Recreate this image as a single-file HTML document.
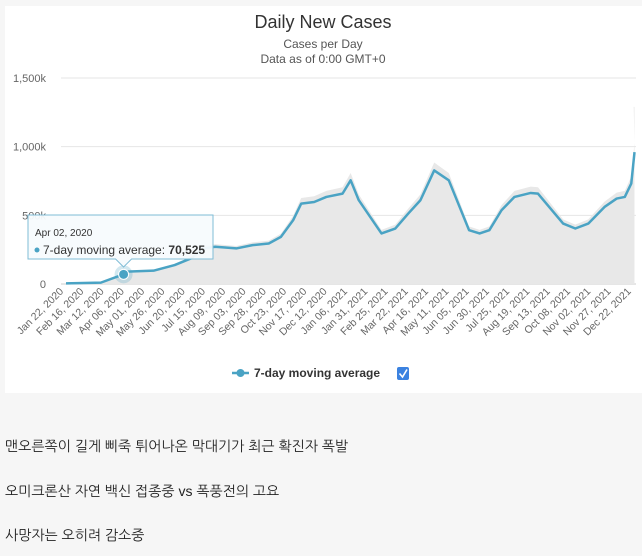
<!DOCTYPE html>
<html><head><meta charset="utf-8">
<style>
body{margin:0;width:642px;height:556px;background:#f6f6f6;font-family:"Liberation Sans","Noto Sans CJK KR",sans-serif;overflow:hidden;position:relative}
#panel{position:absolute;left:5px;top:6px;width:637px;height:387px;background:#fff}
.kr{position:absolute;left:5px;font-size:14px;color:#222;font-family:"Liberation Sans","NanumGothic","Noto Sans CJK KR",sans-serif}
</style></head>
<body>
<div id="panel"></div>
<svg id="chart" width="642" height="400" style="position:absolute;left:0;top:0"></svg>
<div class="kr" style="top:438px">맨오른쪽이 길게 삐죽 튀어나온 막대기가 최근 확진자 폭발</div>
<div class="kr" style="top:483px">오미크론산 자연 백신 접종중 vs 폭풍전의 고요</div>
<div class="kr" style="top:527px">사망자는 오히려 감소중</div>
<script>
const tickLabels=["Jan 22, 2020","Feb 16, 2020","Mar 12, 2020","Apr 06, 2020","May 01, 2020","May 26, 2020","Jun 20, 2020","Jul 15, 2020","Aug 09, 2020","Sep 03, 2020","Sep 28, 2020","Oct 23, 2020","Nov 17, 2020","Dec 12, 2020","Jan 06, 2021","Jan 31, 2021","Feb 25, 2021","Mar 22, 2021","Apr 16, 2021","May 11, 2021","Jun 05, 2021","Jun 30, 2021","Jul 25, 2021","Aug 19, 2021","Sep 13, 2021","Oct 08, 2021","Nov 02, 2021","Nov 27, 2021","Dec 22, 2021"];
const yTicks=[0,500,1000,1500];
const yTickLabels=["0","500k","1,000k","1,500k"];
const days=[0,43,71,73,108,134,154,170,184,210,230,250,265,280,290,306,321,341,351,361,389,406,422,437,454,472,497,510,522,537,553,573,582,613,628,644,664,679,689,697,701];
const avgK=[5,10,70.5,90,97,138,186,259,271,259,283,295,343,464,585,597,634,658,755,610,368,404,513,610,827,755,392,368,392,537,634,663,658,440,404,440,561,622,634,731,960];
const dailySpikeK=1290;
const ns="http://www.w3.org/2000/svg";
const svg=document.getElementById('chart');
const x=d=>66+d*0.811;
const y=v=>284-v*(206/1500);
function el(t,a,p){const e=document.createElementNS(ns,t);for(const k in a)e.setAttribute(k,a[k]);(p||svg).appendChild(e);return e;}
let t=el('text',{x:323,y:28,'text-anchor':'middle','font-size':18,fill:'#333'});t.textContent='Daily New Cases';

t=el('text',{x:323,y:48,'text-anchor':'middle','font-size':12,fill:'#555'});t.textContent='Cases per Day';

t=el('text',{x:323,y:63,'text-anchor':'middle','font-size':12,fill:'#555'});t.textContent='Data as of 0:00 GMT+0';

yTicks.forEach((v,i)=>{
 const g=el('line',{x1:61,x2:636,y1:y(v),y2:y(v),stroke:i?'#e6e6e6':'#ccc'});
 
 const l=el('text',{x:46,y:y(v)+4,'text-anchor':'end','font-size':11,fill:'#666'});l.textContent=yTickLabels[i];
 
});
let ap='M'+x(days[0])+','+y(0);
days.forEach((d,i)=>{ap+=' L'+x(d)+','+y(avgK[i]*1.07);});
ap+=' L'+x(days[days.length-1]-1)+','+y(dailySpikeK)+' L'+x(days[days.length-1])+','+y(dailySpikeK)+' L'+x(days[days.length-1])+','+y(0)+' Z';
const area=el('path',{d:ap,fill:'#e8e8e8'});

tickLabels.forEach((s,i)=>{
 const tx=x(i*25)-2,ty=292;
 const l=el('text',{x:tx,y:ty,'text-anchor':'end','font-size':10.5,fill:'#666',transform:`rotate(-45 ${tx} ${ty})`});l.textContent=s;
 
});
let lp='';days.forEach((d,i)=>{lp+=(i?' L':'M')+x(d)+','+y(avgK[i]);});
const line=el('path',{d:lp,fill:'none',stroke:'#4aa3c4','stroke-width':2.5,'stroke-linejoin':'round'});

const hx=x(days[2]),hy=y(avgK[2]);
let c=el('circle',{cx:hx,cy:hy,r:9,fill:'#4aa3c4','fill-opacity':0.25});

c=el('circle',{cx:hx,cy:hy,r:5,fill:'#4aa3c4',stroke:'#fff','stroke-width':1});

const tip=el('g',{});

el('path',{d:`M28,215 H213 V259 H${hx+8} L${hx},267 L${hx-8},259 H28 Z`,fill:'#f7fbfd','fill-opacity':0.95,stroke:'#7fbcd6','stroke-width':1},tip);
t=el('text',{x:35,y:236,'font-size':10,fill:'#333'},tip);t.textContent='Apr 02, 2020';
el('circle',{cx:37,cy:250,r:2.5,fill:'#4aa3c4'},tip);
t=el('text',{x:43,y:254,'font-size':12,fill:'#333'},tip);t.innerHTML='7-day moving average: <tspan font-weight="bold">70,525</tspan>';
const lg=el('g',{});

el('line',{x1:232,x2:249,y1:373,y2:373,stroke:'#4aa3c4','stroke-width':2.5},lg);
el('circle',{cx:240.5,cy:373,r:4,fill:'#4aa3c4'},lg);
t=el('text',{x:254,y:377,'font-size':12,'font-weight':'bold',fill:'#333'},lg);t.textContent='7-day moving average';
const cb=el('g',{});

el('rect',{x:397,y:367,width:12,height:13,rx:2,fill:'#3b82e0'},cb);
el('path',{d:'M399.5,373.5 L402.5,377 L407,369.5',fill:'none',stroke:'#fff','stroke-width':1.6},cb);
</script>
</body></html>
